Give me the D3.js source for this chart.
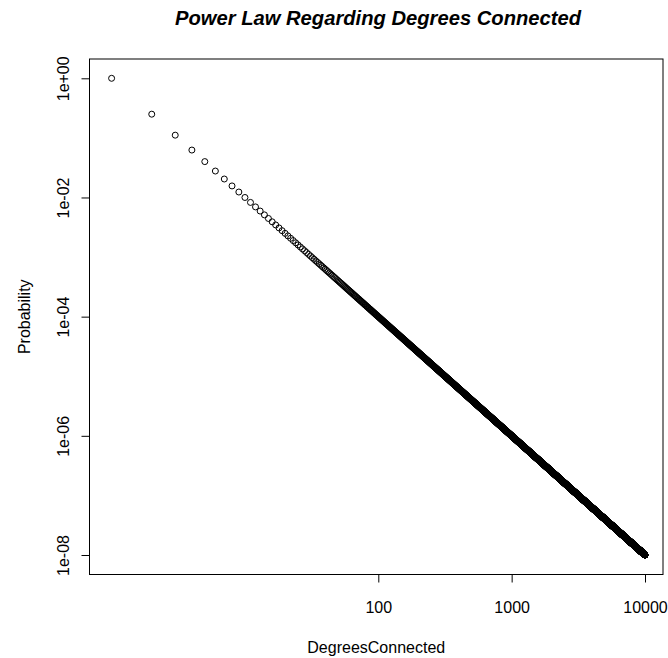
<!DOCTYPE html>
<html>
<head>
<meta charset="utf-8">
<script src="https://cdn.jsdelivr.net/npm/d3@7"></script>
<style>
  body { margin: 0; background: #fff; }
  text { font-family: "Liberation Sans", Arial, sans-serif; fill: #000; }
</style>
</head>
<body>
<div id="chart"></div>
<script>
var width = 668
var height = 658

// degrees connected run 1..10000, probability follows the power law
// (p = 1 at degree 1, p = 1e-8 at degree 10000 -> exponent 2)
var degrees = d3.range(1, 10001)
var exponent = 2
var probability = degrees.map(d => Math.pow(d, -exponent))

var xTicks = [100, 1000, 10000]
var xTickLabels = ['100', '1000', '10000']
var yTicks = [1, 1e-2, 1e-4, 1e-6, 1e-8]
var yTickLabels = ['1e+00', '1e-02', '1e-04', '1e-06', '1e-08']

var plot = { left: 89.5, right: 663, top: 59, bottom: 574.5 }

var svg = d3
  .select('#chart')
  .append('svg')
  .attr('width', width)
  .attr('height', height)

var xScale = d3.scaleLog().domain([1, 10000]).range([111.6, 645])
var yScale = d3.scaleLog().domain([1, 1e-8]).range([78.3, 555])

// points
svg
  .append('g')
  .selectAll('circle')
  .data(degrees)
  .enter()
  .append('circle')
  .attr('cx', d => xScale(d))
  .attr('cy', (d, i) => yScale(probability[i]))
  .attr('r', 3)
  .attr('fill', 'none')
  .attr('stroke', '#000')
  .attr('stroke-width', 1)

// box
svg
  .append('rect')
  .attr('x', plot.left)
  .attr('y', plot.top)
  .attr('width', plot.right - plot.left)
  .attr('height', plot.bottom - plot.top)
  .attr('fill', 'none')
  .attr('stroke', '#000')
  .attr('stroke-width', 1)

var xAxis = d3
  .axisBottom(xScale)
  .tickValues(xTicks)
  .tickFormat((d, i) => xTickLabels[i])
  .tickSize(8)
  .tickPadding(19)

var gx = svg
  .append('g')
  .attr('transform', 'translate(0,' + plot.bottom + ')')
  .call(xAxis)
gx.select('.domain').remove()
gx.selectAll('text').attr('font-size', 16).attr('font-family', '"Liberation Sans", Arial, sans-serif')

var yAxis = d3
  .axisLeft(yScale)
  .tickValues(yTicks)
  .tickFormat((d, i) => yTickLabels[i])
  .tickSize(8)

var gy = svg
  .append('g')
  .attr('transform', 'translate(' + plot.left + ',0)')
  .call(yAxis)
gy.select('.domain').remove()
gy.selectAll('text')
  .attr('font-size', 16)
  .attr('font-family', '"Liberation Sans", Arial, sans-serif')
  .attr('x', null)
  .attr('dy', null)
  .attr('text-anchor', 'middle')
  .attr('dominant-baseline', 'central')
  .attr('transform', 'translate(-26,0) rotate(-90)')

// titles
svg
  .append('text')
  .attr('x', 378)
  .attr('y', 25)
  .attr('text-anchor', 'middle')
  .attr('font-size', 20.2)
  .attr('font-weight', 'bold')
  .attr('font-style', 'italic')
  .text('Power Law Regarding Degrees Connected')

svg
  .append('text')
  .attr('x', (plot.left + plot.right) / 2)
  .attr('y', 653)
  .attr('text-anchor', 'middle')
  .attr('font-size', 16)
  .text('DegreesConnected')

svg
  .append('text')
  .attr('transform', 'translate(24,' + (plot.top + plot.bottom) / 2 + ') rotate(-90)')
  .attr('text-anchor', 'middle')
  .attr('dominant-baseline', 'central')
  .attr('font-size', 16)
  .text('Probability')
</script>
</body>
</html>
